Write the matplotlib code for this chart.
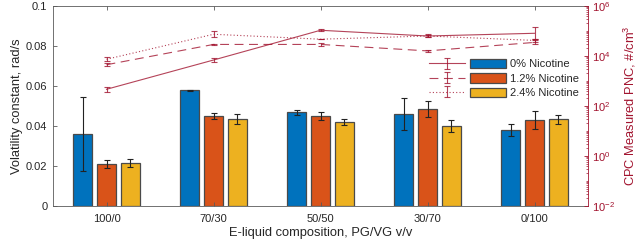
import numpy as np
import matplotlib
matplotlib.use("Agg")
import matplotlib.pyplot as plt
from matplotlib.ticker import FixedLocator, LogLocator, NullFormatter, FuncFormatter

plt.rcParams['font.family'] = ['Liberation Sans', 'DejaVu Sans']
plt.rcParams['mathtext.fontset'] = 'custom'
plt.rcParams['mathtext.rm'] = 'Liberation Sans'
plt.rcParams['mathtext.it'] = 'Liberation Sans'

categories = ["100/0", "70/30", "50/50", "30/70", "0/100"]
series = ["0% Nicotine", "1.2% Nicotine", "2.4% Nicotine"]

# Volatility constant (rad/s)
vol_0 = [0.036, 0.0578, 0.0468, 0.046, 0.038]
vol_12 = [0.021, 0.045, 0.045, 0.0483, 0.043]
vol_24 = [0.0215, 0.0435, 0.0422, 0.040, 0.0433]
err_0 = [0.0185, 0.0002, 0.0014, 0.008, 0.0028]
err_12 = [0.002, 0.0015, 0.0022, 0.004, 0.0044]
err_24 = [0.0018, 0.0025, 0.0015, 0.003, 0.0023]

# CPC measured PNC (#/cm^3)
pnc_0 = [466, 6900, 107000, 63000, 81000]
pnc_0_lo = [88, 1150, 9000, 4500, 32000]
pnc_0_hi = [107, 1400, 10000, 4500, 59000]
pnc_12 = [4470, 29000, 29000, 16000, 35000]
pnc_12_lo = [650, 1000, 4100, 1500, 6000]
pnc_12_hi = [750, 1000, 4800, 1500, 7500]
pnc_24 = [7400, 74000, 47000, 63000, 42000]
pnc_24_lo = [1300, 17000, 1000, 8000, 5500]
pnc_24_hi = [1500, 22000, 1000, 10000, 6500]

bar_colors = ['#0072BD', '#D95319', '#EDB120']
line_color = '#A2142F'
axis_gray = '#5a5a5a'
text_col = '#262626'

fig = plt.figure(figsize=(6.4, 2.44), dpi=100)
ax = fig.add_axes([53/640, 1 - 206/244, 535/640, 200/244])
ax2 = ax.twinx()
ax.set_zorder(1)
ax2.set_zorder(2)
ax.patch.set_visible(True)
ax2.patch.set_visible(False)

x = np.arange(1, len(categories) + 1)
offs = [-0.223, 0.0, 0.223]
width = 0.18
bar_handles = []
for vals, errs, off, col, lab in zip([vol_0, vol_12, vol_24], [err_0, err_12, err_24],
                                     offs, bar_colors, series):
    b = ax.bar(x + off, vals, width, color=col, edgecolor='#4a4a4a', linewidth=0.9, label=lab)
    ax.errorbar(x + off, vals, yerr=errs, fmt='none', ecolor='#222222', elinewidth=0.8,
                capsize=2.2, capthick=0.8)
    bar_handles.append(b)

ax.set_xlim(0.5, 5.5)
ax.set_ylim(0, 0.1)
ax.set_xticks(x)
ax.set_xticklabels(categories)
ax.set_yticks([0, 0.02, 0.04, 0.06, 0.08, 0.1])
ax.yaxis.set_major_formatter(FuncFormatter(lambda v, p: '0' if v == 0 else ('%g' % v)))
ax.tick_params(axis='both', direction='in', length=3, width=0.6, colors=axis_gray,
               labelcolor=text_col, labelsize=8, top=True, pad=4)
ax.tick_params(axis='x', pad=6)
ax.set_xlabel('E-liquid composition, PG/VG v/v', fontsize=9.3, color=text_col, labelpad=2)
ax.set_ylabel('Volatility constant, rad/s', fontsize=9.3, color=text_col, labelpad=2)
for s in ['left', 'bottom', 'top']:
    ax.spines[s].set_color(axis_gray)
    ax.spines[s].set_linewidth(0.6)
ax.spines['right'].set_visible(False)

styles = ['-', (0, (8, 5)), (0, (1, 2))]
line_handles = []
for vals, lo, hi, ls in zip([pnc_0, pnc_12, pnc_24], [pnc_0_lo, pnc_12_lo, pnc_24_lo],
                            [pnc_0_hi, pnc_12_hi, pnc_24_hi], styles):
    h = ax2.errorbar(x, vals, yerr=[lo, hi], color=line_color, lw=0.8, ls=ls,
                     elinewidth=0.8, capsize=2.2, capthick=0.8, alpha=0.8)
    line_handles.append(h)

ax2.set_yscale('log')
ax2.set_ylim(1e-2, 1e6)
ax2.yaxis.set_major_locator(FixedLocator([1e-2, 1e0, 1e2, 1e4, 1e6]))
ax2.yaxis.set_major_formatter(FuncFormatter(lambda v, p: r'$\mathregular{10^{%d}}$' % int(round(np.log10(v)))))
ax2.yaxis.set_minor_locator(LogLocator(base=10, subs=np.arange(1, 10), numticks=100))
ax2.yaxis.set_minor_formatter(NullFormatter())
ax2.tick_params(axis='y', which='major', direction='in', length=3, width=0.6,
                colors=line_color, labelsize=8, pad=3)
ax2.tick_params(axis='y', which='minor', direction='in', length=1.8, width=0.5,
                colors=line_color)
ax2.set_ylabel(r'CPC Measured PNC, #/cm$^3$', fontsize=9.3, color=line_color, labelpad=5)
ax2.spines['right'].set_color(line_color)
ax2.spines['right'].set_linewidth(0.6)
for s in ['left', 'bottom', 'top']:
    ax2.spines[s].set_visible(False)

leg1 = ax2.legend(bar_handles, series, loc='upper left', bbox_to_anchor=(0.780, 0.735),
                  frameon=False, fontsize=8, handlelength=3.25, handleheight=0.9,
                  handletextpad=0.3, labelspacing=0.35, borderpad=0, borderaxespad=0,
                  labelcolor=text_col)
ax2.add_artist(leg1)
leg2 = ax2.legend(line_handles, ['', '', ''], loc='upper left', bbox_to_anchor=(0.703, 0.735),
                  frameon=False, fontsize=8, handlelength=3.2, handleheight=0.9,
                  handletextpad=0.0, labelspacing=0.35, borderpad=0, borderaxespad=0)

fig.savefig('out.png', dpi=100)
